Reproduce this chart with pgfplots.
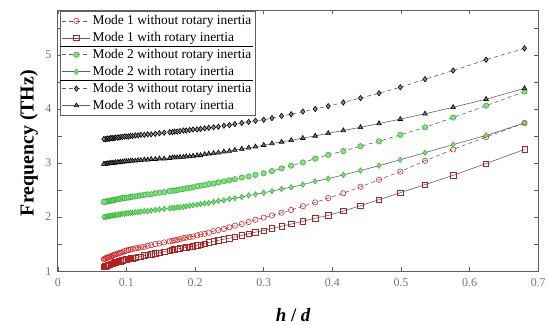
\documentclass[border=0pt]{standalone}
\usepackage{fontspec}
\setmainfont{Liberation Serif}
\usepackage{pgfplots}
\usepackage{pgfplotstable}
\pgfplotsset{compat=1.18}
\definecolor{mred}{RGB}{210,40,40}
\definecolor{mgreen}{RGB}{50,185,50}
\definecolor{lgray}{RGB}{95,95,95}
\pgfplotstableread{
x s1 s2 s3 s4 s5 s6
0.680 3.74 3.25 4.32 3.74 5.12 4.38
0.624 3.48 2.99 4.06 3.51 4.91 4.18
0.576 3.25 2.77 3.84 3.34 4.71 4.03
0.535 3.04 2.60 3.66 3.19 4.55 3.91
0.499 2.84 2.45 3.52 3.06 4.40 3.81
0.468 2.69 2.32 3.40 2.95 4.29 3.73
0.441 2.56 2.21 3.31 2.86 4.20 3.66
0.416 2.44 2.11 3.22 2.78 4.12 3.60
0.394 2.35 2.03 3.15 2.71 4.05 3.55
0.375 2.27 1.98 3.08 2.66 4.00 3.50
0.357 2.20 1.92 3.01 2.60 3.95 3.46
0.340 2.13 1.87 2.95 2.55 3.90 3.42
0.326 2.08 1.83 2.90 2.52 3.87 3.39
0.312 2.03 1.79 2.85 2.48 3.83 3.36
0.300 1.99 1.75 2.81 2.45 3.80 3.33
0.288 1.95 1.72 2.78 2.42 3.78 3.30
0.278 1.91 1.69 2.75 2.40 3.76 3.28
0.268 1.87 1.66 2.73 2.37 3.74 3.26
0.258 1.84 1.63 2.70 2.35 3.72 3.24
0.250 1.81 1.61 2.68 2.33 3.70 3.22
0.242 1.78 1.59 2.66 2.31 3.69 3.21
0.234 1.76 1.57 2.64 2.30 3.67 3.19
0.227 1.74 1.55 2.62 2.28 3.66 3.18
0.220 1.71 1.53 2.61 2.26 3.65 3.17
0.214 1.69 1.51 2.59 2.25 3.64 3.16
0.208 1.68 1.49 2.58 2.24 3.63 3.14
0.203 1.66 1.48 2.57 2.23 3.62 3.14
0.197 1.64 1.46 2.55 2.22 3.62 3.13
0.192 1.63 1.45 2.54 2.21 3.61 3.12
0.187 1.62 1.44 2.53 2.20 3.60 3.12
0.183 1.61 1.43 2.52 2.19 3.60 3.11
0.178 1.59 1.42 2.51 2.18 3.59 3.11
0.174 1.58 1.41 2.50 2.18 3.58 3.10
0.170 1.57 1.40 2.49 2.17 3.58 3.10
0.167 1.56 1.39 2.49 2.17 3.57 3.10
0.163 1.55 1.38 2.48 2.16 3.57 3.09
0.155 1.53 1.36 2.46 2.15 3.56 3.08
0.148 1.51 1.34 2.45 2.14 3.55 3.08
0.142 1.50 1.33 2.44 2.13 3.54 3.07
0.136 1.48 1.31 2.42 2.12 3.53 3.07
0.131 1.47 1.30 2.42 2.11 3.53 3.06
0.126 1.45 1.29 2.41 2.11 3.52 3.06
0.121 1.44 1.27 2.40 2.10 3.52 3.05
0.117 1.43 1.26 2.39 2.09 3.51 3.05
0.113 1.42 1.25 2.38 2.09 3.51 3.04
0.109 1.41 1.24 2.38 2.08 3.50 3.04
0.106 1.40 1.24 2.37 2.08 3.50 3.04
0.103 1.39 1.23 2.36 2.07 3.49 3.03
0.100 1.38 1.22 2.36 2.07 3.49 3.03
0.097 1.37 1.21 2.35 2.06 3.49 3.03
0.094 1.35 1.20 2.35 2.06 3.48 3.02
0.091 1.34 1.18 2.34 2.05 3.48 3.02
0.089 1.33 1.18 2.33 2.05 3.47 3.01
0.087 1.32 1.17 2.33 2.04 3.47 3.01
0.084 1.31 1.16 2.32 2.04 3.47 3.01
0.082 1.30 1.15 2.32 2.03 3.46 3.00
0.080 1.29 1.14 2.31 2.03 3.46 3.00
0.079 1.28 1.14 2.31 2.03 3.46 3.00
0.077 1.27 1.13 2.30 2.02 3.46 3.00
0.075 1.26 1.12 2.30 2.02 3.45 2.99
0.073 1.25 1.11 2.29 2.01 3.45 2.99
0.072 1.25 1.10 2.29 2.01 3.45 2.99
0.070 1.24 1.09 2.29 2.01 3.44 2.98
0.069 1.23 1.09 2.28 2.00 3.44 2.98
0.067 1.22 1.08 2.28 2.00 3.44 2.98
}\freq
\begin{document}
\begin{tikzpicture}
\begin{axis}[
  scale only axis,
  width=482bp, height=262bp,
  xmin=0, xmax=0.7, ymin=1, ymax=5.83,
  xtick={0,0.1,...,0.7},
  ytick={1,2,3,4,5},
  minor ytick={1.5,2.5,3.5,4.5,5.5},
  tick align=inside,
  major tick length=4bp, minor tick length=4bp,
  axis line style={lgray, line width=0.8bp},
  tick style={lgray, line width=0.6bp},
  tick label style={font=\fontsize{12}{14}\selectfont, text=black!55},
  /pgf/number format/assume math mode=true,
  /pgf/number format/fixed,
  scaled ticks=false,
  xticklabel style={yshift=-4bp},
  yticklabel style={xshift=-3bp},
  xlabel={\textbf{\textit{h} / \textit{d}}},
  xlabel style={font=\fontsize{19}{21}\selectfont, at={(axis description cs:0.49,-0.168)}, anchor=center},
  ylabel={\textbf{Frequency (THz)}},
  ylabel style={font=\fontsize{20}{22}\selectfont, at={(axis description cs:-0.06,0.49)}, anchor=center},
  legend style={at={(rel axis cs:0.004,0.996)}, anchor=north west,
    font=\fontsize{13.5}{15}\selectfont, draw=lgray, line width=0.8bp,
    inner xsep=2bp, inner ysep=1bp, row sep=0pt,
    nodes={text height=10bp, text depth=3bp, inner ysep=2bp}},
  legend cell align=left,
  legend image code/.code={\draw[mark repeat=2,mark phase=2] plot coordinates {(0bp,0bp) (14bp,0bp) (28bp,0bp)};},
  every axis plot/.append style={line width=0.6bp, mark size=2.7bp},
]
\addplot[lgray, dashed, dash pattern=on 4bp off 3bp, mark=o, mark options={solid, draw=mred, fill=mred!30}] table[x=x, y=s1] {\freq};
\addlegendentry{Mode 1 without rotary inertia}
\addplot[lgray, mark=square, mark options={solid, draw=mred!85!black, fill=mred!45}] table[x=x, y=s2] {\freq};
\addlegendentry{Mode 1 with rotary inertia}
\addplot[lgray, dashed, dash pattern=on 4bp off 3bp, mark=*, mark options={solid, draw=mgreen, fill=mgreen!55}] table[x=x, y=s3] {\freq};
\addlegendentry{Mode 2 without rotary inertia}
\addplot[lgray, mark=diamond*, mark options={solid, draw=mgreen, fill=mgreen!55}] table[x=x, y=s4] {\freq};
\addlegendentry{Mode 2 with rotary inertia}
\addplot[lgray, dashed, dash pattern=on 4bp off 3bp, mark=diamond*, mark options={solid, draw=black, fill=black!45}] table[x=x, y=s5] {\freq};
\addlegendentry{Mode 3 without rotary inertia}
\addplot[lgray, mark=triangle*, mark options={solid, draw=black, fill=black!55}] table[x=x, y=s6] {\freq};
\addlegendentry{Mode 3 with rotary inertia}
\coordinate (sepAl) at (rel axis cs:0.004,0.861);
\coordinate (sepBl) at (rel axis cs:0.004,0.731);
\end{axis}
\path (sepAl) ++(194bp,0) coordinate (sepAr);
\path (sepBl) ++(194bp,0) coordinate (sepBr);
\draw[black, line width=1bp] (sepAl) -- (sepAr);
\draw[black, line width=1bp] (sepBl) -- (sepBr);
\path ([shift={(-58bp,-54bp)}]current axis.south west) rectangle ([shift={(9bp,10bp)}]current axis.north east);
\end{tikzpicture}
\end{document}
